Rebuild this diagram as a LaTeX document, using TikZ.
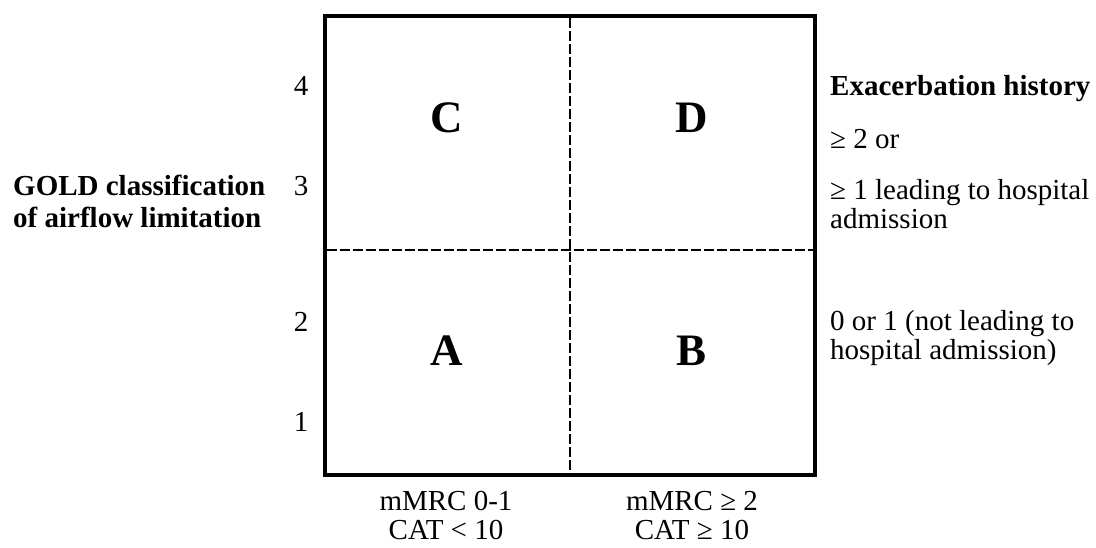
\documentclass[tikz,border=0pt]{standalone}
\usepackage{fontspec}
\setmainfont{Liberation Serif}
\begin{document}
\begin{tikzpicture}[x=1pt,y=-1pt,
  txt/.style={inner sep=0pt,font=\fontsize{29}{29}\selectfont},
  btxt/.style={inner sep=0pt,font=\fontsize{29}{29}\selectfont\bfseries},
  big/.style={inner sep=0pt,font=\fontsize{45}{45}\selectfont\bfseries},
  frame/.style={line width=4pt},
  divider/.style={line width=2.6pt,dash pattern=on 10pt off 3pt}]
\useasboundingbox (0,0) rectangle (1096,547);
% grid
\coordinate (tl) at (324.5,16);
\coordinate (br) at (815,474.5);
\coordinate (vt) at (570,18);
\coordinate (vb) at (570,472.5);
\coordinate (hl) at (326.5,250);
\coordinate (hr) at (813,250);
\draw[divider] (vt) -- (vb);
\draw[divider] (hl) -- (hr);
\draw[frame] (tl) rectangle (br);
% quadrant letters
\node[big,anchor=base] (C) at (447,132) {C};
\node[big,anchor=base] (D) at (692,132) {D};
\node[big,anchor=base] (A) at (447,365) {A};
\node[big,anchor=base] (B) at (692,365) {B};
% left scale
\node[txt,anchor=base] (n4) at (301,95) {4};
\node[txt,anchor=base] (n3) at (301,195) {3};
\node[txt,anchor=base] (n2) at (301,331) {2};
\node[txt,anchor=base] (n1) at (301,431) {1};
\node[btxt,anchor=base west] (gold1) at (13,195) {GOLD classification};
\node[btxt,anchor=base west] (gold2) at (13,227) {of airflow limitation};
% right
\node[btxt,anchor=base west] (ex) at (830,95) {Exacerbation history};
\node[txt,anchor=base west] (r1) at (830,148) {≥ 2 or};
\node[txt,anchor=base west] (r2) at (830,199) {≥ 1 leading to hospital};
\node[txt,anchor=base west] (r3) at (830,228) {admission};
\node[txt,anchor=base west] (r4) at (830,330) {0 or 1 (not leading to};
\node[txt,anchor=base west] (r5) at (830,359) {hospital admission)};
% bottom
\node[txt,anchor=base] (b1) at (446,510) {mMRC 0-1};
\node[txt,anchor=base] (b2) at (446,539) {CAT < 10};
\node[txt,anchor=base] (b3) at (692,510) {mMRC ≥ 2};
\node[txt,anchor=base] (b4) at (692,539) {CAT ≥ 10};
\end{tikzpicture}
\end{document}
